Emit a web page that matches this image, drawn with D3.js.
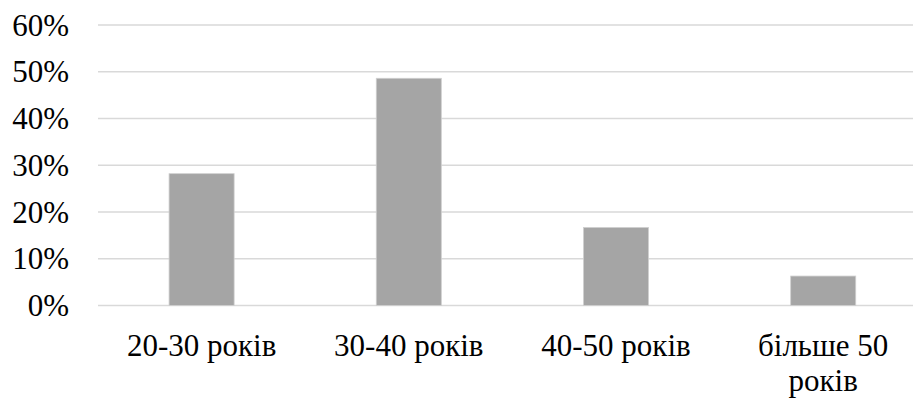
<!DOCTYPE html>
<html>
<head>
<meta charset="utf-8">
<script src="https://cdn.jsdelivr.net/npm/d3@7"></script>
<style>
  html, body { margin: 0; padding: 0; background: #fff; }
  svg { display: block; }
</style>
</head>
<body>
<svg id="chart" width="913" height="398" font-family="Liberation Serif"></svg>
<script>
const categories = ["20-30 років", "30-40 років", "40-50 років", "більше 50 років"];
const values = [0.282, 0.486, 0.167, 0.063];
const yTicks = [0, 0.1, 0.2, 0.3, 0.4, 0.5, 0.6];

const plot = { left: 98, right: 926.8, top: 25, bottom: 305.5 };
const svg = d3.select("#chart");

const x = d3.scaleBand()
  .domain(categories)
  .range([plot.left, plot.right])
  .paddingInner(0.686)
  .paddingOuter(0.343);

const y = d3.scaleLinear().domain([0, 0.6]).range([plot.bottom, plot.top]);

// gridlines
svg.append("g").selectAll("line")
  .data(yTicks)
  .join("line")
  .attr("x1", plot.left).attr("x2", plot.right)
  .attr("y1", d => y(d)).attr("y2", d => y(d))
  .attr("stroke", "#d9d9d9").attr("stroke-width", 1.5);

// y labels
const fmt = d3.format(".0%");
svg.append("g").selectAll("text")
  .data(yTicks)
  .join("text")
  .attr("x", 69)
  .attr("y", d => y(d) + 10.5)
  .attr("text-anchor", "end")
  .attr("font-size", 31)
  .style("font-family", '"Liberation Serif"')
  .text(d => fmt(d));

// bars
svg.append("g").selectAll("rect")
  .data(categories.map((c, i) => ({ c, v: values[i] })))
  .join("rect")
  .attr("x", d => x(d.c))
  .attr("width", x.bandwidth())
  .attr("y", d => y(d.v))
  .attr("height", d => y(0) - y(d.v))
  .attr("fill", "#a5a5a5")
  .attr("stroke", "#d0d0d0")
  .attr("stroke-width", 0.8);

// category labels with wrapping
const maxW = x.step() * 0.8;
const lab = svg.append("g").selectAll("text")
  .data(categories)
  .join("text")
  .attr("text-anchor", "middle")
  .attr("font-family", "Liberation Serif")
  .attr("font-size", 31)
  .attr("x", d => x(d) + x.bandwidth() / 2)
  .attr("y", 356);

lab.each(function(d) {
  const t = d3.select(this);
  const cx = x(d) + x.bandwidth() / 2;
  const words = d.split(" ");
  let line = [];
  let tspan = t.append("tspan").attr("x", cx).attr("dy", 0);
  for (const w of words) {
    line.push(w);
    tspan.text(line.join(" "));
    if (tspan.node().getComputedTextLength() > maxW && line.length > 1) {
      line.pop();
      tspan.text(line.join(" "));
      line = [w];
      tspan = t.append("tspan").attr("x", cx).attr("dy", 35).text(w);
    }
  }
});
</script>
</body>
</html>
